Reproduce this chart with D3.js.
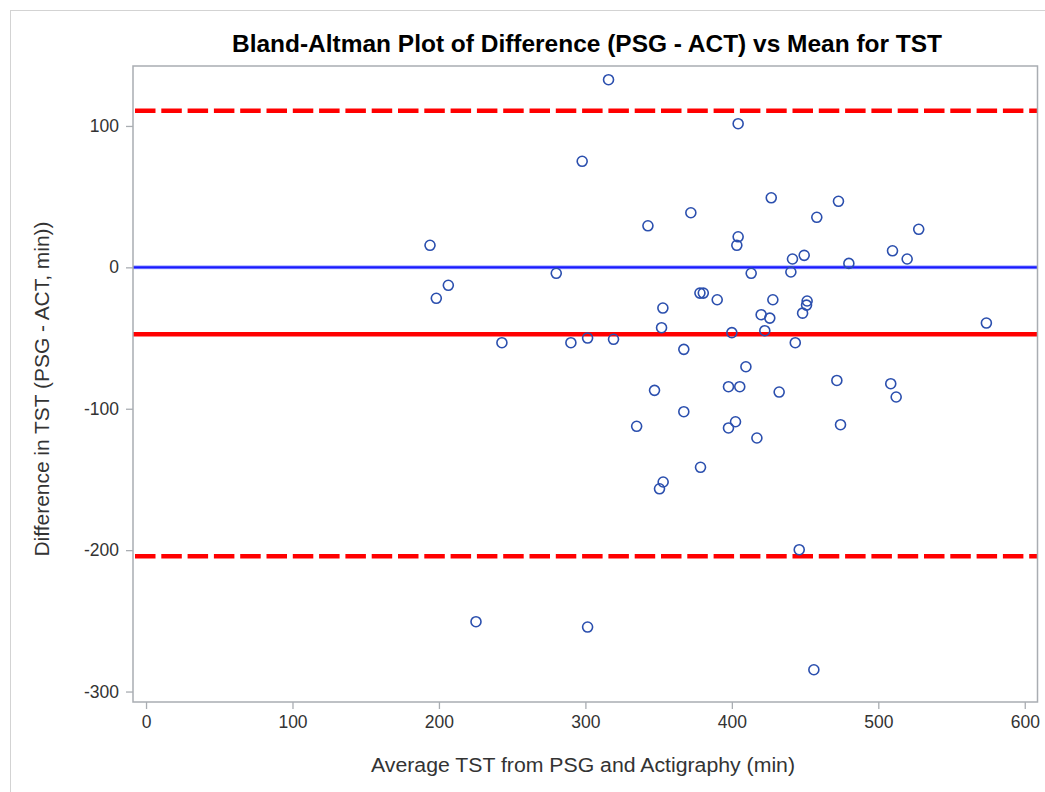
<!DOCTYPE html>
<html>
<head>
<meta charset="utf-8">
<script src="https://cdn.jsdelivr.net/npm/d3@7"></script>
<style>
  html, body { margin: 0; padding: 0; background: #fff; }
  svg { display: block; }
</style>
</head>
<body>
<svg id="chart" width="1045" height="792"></svg>
<script>
// ---- data ----
const title = "Bland-Altman Plot of Difference (PSG - ACT) vs Mean for TST";
const xLabel = "Average TST from PSG and Actigraphy (min)";
const yLabel = "Difference in TST (PSG - ACT, min))";
const xTicks = [0, 100, 200, 300, 400, 500, 600];
const yTicks = [100, 0, -100, -200, -300];
const meanTST = [315.8, 404.3, 297.8, 372.0, 342.7, 404.3, 403.4, 193.9, 280.1, 413.2,
  206.4, 198.2, 378.2, 380.5, 390.0, 352.9, 352.0, 400.0, 243.0, 290.1,
  301.5, 319.2, 367.2, 409.6, 347.2, 397.7, 405.4, 426.9, 472.8, 458.0,
  527.6, 509.7, 519.7, 449.4, 441.4, 479.9, 440.3, 428.0, 451.4, 451.0,
  448.3, 420.0, 425.9, 422.5, 443.3, 573.8, 432.3, 471.7, 508.5, 512.2,
  367.2, 335.0, 397.7, 402.5, 417.1, 474.2, 378.6, 353.1, 350.6, 225.3,
  301.5, 446.0, 456.0];
const diffTST = [132.7, 101.6, 75.0, 38.6, 29.4, 21.6, 15.6, 15.6, -4.2, -4.2,
  -12.7, -21.9, -18.2, -18.2, -22.9, -28.8, -42.7, -46.2, -53.3, -53.3,
  -50.0, -50.9, -58.0, -70.3, -87.0, -84.4, -84.4, 49.2, 46.7, 35.4,
  26.9, 11.7, 5.9, 8.5, 5.9, 2.8, -3.3, -22.9, -23.8, -26.7,
  -32.4, -33.5, -35.9, -44.8, -53.3, -39.4, -88.2, -80.0, -82.3, -91.7,
  -102.1, -112.4, -113.6, -109.2, -120.7, -111.3, -141.4, -151.8, -156.6, -250.6,
  -254.4, -199.7, -284.6];
const zeroLine = 0;
const meanDiff = -47.4;
const upperLoA = 110.7;
const lowerLoA = -204.3;

// ---- layout ----
const svg = d3.select("#chart");
const plot = { left: 133, right: 1037.5, top: 66, bottom: 702 };
const x = d3.scaleLinear().domain([-8.9, 608.7]).range([plot.left, plot.right]);
const y = d3.scaleLinear().domain([142.4, -307.4]).range([plot.top, plot.bottom]);

const axisColor = "#a9adb2";
const textColor = "#333333";
const font = "Arial, 'Liberation Sans', sans-serif";

// outer border
svg.append("rect")
  .attr("x", 10.5).attr("y", 10.5).attr("width", 1100).attr("height", 900)
  .attr("fill", "none").attr("stroke", "#d3d3d3").attr("stroke-width", 1);

// title
svg.append("text")
  .attr("x", 587).attr("y", 52)
  .attr("text-anchor", "middle")
  .attr("font-family", font)
  .attr("font-weight", "bold")
  .attr("font-size", 24)
  .attr("textLength", 710)
  .attr("lengthAdjust", "spacingAndGlyphs")
  .attr("fill", "#000")
  .text(title);

// clip
svg.append("clipPath").attr("id", "clip")
  .append("rect")
  .attr("x", plot.left).attr("y", plot.top)
  .attr("width", plot.right - plot.left).attr("height", plot.bottom - plot.top);

const g = svg.append("g").attr("clip-path", "url(#clip)");

// reference lines
g.append("line")
  .attr("x1", plot.left).attr("x2", plot.right)
  .attr("y1", y(zeroLine)).attr("y2", y(zeroLine))
  .attr("stroke", "#aab4ff").attr("stroke-width", 4);
g.append("line")
  .attr("x1", plot.left).attr("x2", plot.right)
  .attr("y1", y(zeroLine)).attr("y2", y(zeroLine))
  .attr("stroke", "#1a1aff").attr("stroke-width", 2.2);
g.append("line")
  .attr("x1", plot.left).attr("x2", plot.right)
  .attr("y1", y(meanDiff)).attr("y2", y(meanDiff))
  .attr("stroke", "#ff0000").attr("stroke-width", 4.5);
[upperLoA, lowerLoA].forEach(v => {
  g.append("line")
    .attr("x1", plot.left + 2).attr("x2", plot.right)
    .attr("y1", y(v)).attr("y2", y(v))
    .attr("stroke", "#ff0000").attr("stroke-width", 4.5)
    .attr("stroke-dasharray", "20.5,5.8");
});

// points
g.selectAll("circle.pt")
  .data(meanTST.map((m, i) => [m, diffTST[i]]))
  .join("circle")
  .attr("class", "pt")
  .attr("cx", d => x(d[0]))
  .attr("cy", d => y(d[1]))
  .attr("r", 5)
  .attr("fill", "none")
  .attr("stroke", "#2b4fae")
  .attr("stroke-width", 1.6);

// frame
svg.append("rect")
  .attr("x", plot.left).attr("y", plot.top)
  .attr("width", plot.right - plot.left).attr("height", plot.bottom - plot.top)
  .attr("fill", "none").attr("stroke", axisColor).attr("stroke-width", 1.5);

// axes
const fmt = d => String(d);
const xAxis = d3.axisBottom(x).tickValues(xTicks).tickSize(7).tickPadding(7).tickFormat(fmt);
const yAxis = d3.axisLeft(y).tickValues(yTicks).tickSize(7).tickPadding(7).tickFormat(fmt);

const gx = svg.append("g").attr("transform", `translate(0,${plot.bottom})`).call(xAxis);
const gy = svg.append("g").attr("transform", `translate(${plot.left},0)`).call(yAxis);

[gx, gy].forEach(ax => {
  ax.select(".domain").remove();
  ax.selectAll(".tick line").attr("stroke", axisColor).attr("stroke-width", 1.3);
  ax.selectAll(".tick text")
    .attr("fill", textColor)
    .attr("font-family", font)
    .attr("font-size", 17.5);
});

// axis labels
svg.append("text")
  .attr("x", 583).attr("y", 772)
  .attr("text-anchor", "middle")
  .attr("font-family", font)
  .attr("font-size", 20)
  .attr("textLength", 424)
  .attr("lengthAdjust", "spacingAndGlyphs")
  .attr("fill", textColor)
  .text(xLabel);

svg.append("text")
  .attr("transform", `translate(49,389) rotate(-90)`)
  .attr("text-anchor", "middle")
  .attr("font-family", font)
  .attr("font-size", 20)
  .attr("textLength", 335)
  .attr("lengthAdjust", "spacingAndGlyphs")
  .attr("fill", textColor)
  .text(yLabel);
</script>
</body>
</html>
